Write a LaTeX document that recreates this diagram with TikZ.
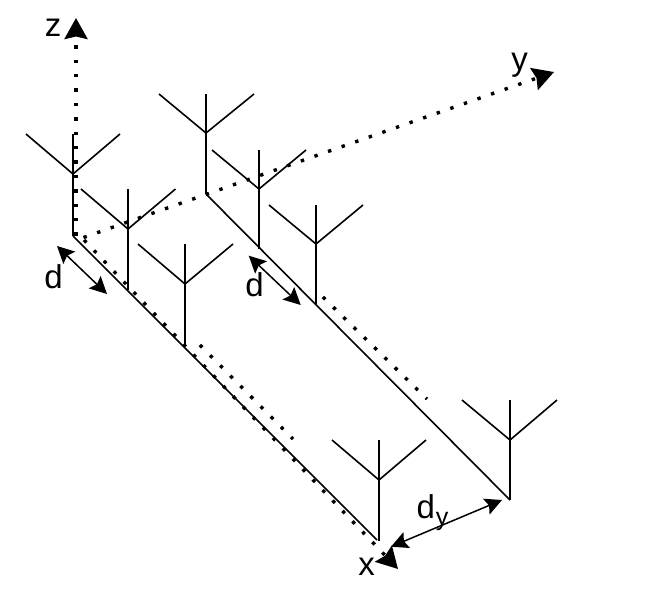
\documentclass[tikz,border=0pt]{standalone}
\usepackage{fontspec}
\setmainfont{Liberation Sans}
\usetikzlibrary{arrows.meta}
\tikzset{
  antline/.style={line width=1.6pt},
  dotline/.style={line width=3.4pt,line cap=butt,dash pattern=on 3.4pt off 11pt},
  axistip/.style={-{Stealth[length=21pt,width=23pt,inset=2.5pt]}},
  gaptip/.style={{Stealth[length=17pt,width=17pt,inset=3pt]}-{Stealth[length=17pt,width=17pt,inset=3pt]},line width=1.5pt},
  labeltext/.style={font=\fontsize{33}{33}\selectfont,inner sep=0pt,anchor=base}
}
\begin{document}
\begin{tikzpicture}[line join=round,x=1pt,y=-1pt]
\useasboundingbox (0,0) rectangle (648,590);
% feed points of the two rows
\coordinate (a1) at (73,236);
\coordinate (a2) at (128,290);
\coordinate (a3) at (185,347);
\coordinate (a4) at (206,194);
\coordinate (a5) at (259,249);
\coordinate (a6) at (316,304);
\coordinate (a7) at (379,541);
\coordinate (a8) at (510,500);
\draw [antline] (a1)-- (377,540);
\draw [antline] (a4)-- (a8);
% front row
\draw [antline] (a1)-- (73,134);
\draw [antline] (26,134)-- (73,174)-- (120,134);
\draw [antline] (a2)-- (128,189);
\draw [antline] (81,189)-- (128,229)-- (175.5,189);
\draw [antline] (a3)-- (185,244);
\draw [antline] (138,244)-- (185,284)-- (233,244);
\draw [antline] (a7)-- (379,440);
\draw [antline] (332,440)-- (379,480)-- (426,440);
% back row
\draw [antline] (a4)-- (206,94);
\draw [antline] (159,94)-- (206,133)-- (254,94);
\draw [antline] (a5)-- (259,150);
\draw [antline] (212,150)-- (259,189)-- (306,150);
\draw [antline] (a6)-- (316,205);
\draw [antline] (269,205)-- (316,244)-- (363,205);
\draw [antline] (a8)-- (510,400);
\draw [antline] (462,400)-- (510,440)-- (557,400);
% axes
\coordinate (zorig) at (76,235.7);
\coordinate (ztip) at (76,18);
\coordinate (yorig) at (83.5,237.5);
\coordinate (ytip) at (554,72);
\coordinate (xorig) at (84,240);
\coordinate (xtip) at (398,569);
\draw [dotline,axistip] (zorig)-- (ztip);
\draw [dotline,axistip] (yorig)-- (ytip);
\draw [dotline,axistip] (xorig)-- (xtip);
\coordinate (ra) at (199.9,345);
\coordinate (rb) at (293,439);
\coordinate (rc) at (322.9,297);
\coordinate (rd) at (427,399);
\draw [dotline] (ra)-- (rb);
\draw [dotline] (rc)-- (rd);
% spacings
\coordinate (da) at (57,246);
\coordinate (db) at (107,294);
\coordinate (dc) at (248.7,255.7);
\coordinate (dd) at (300.7,305);
\coordinate (de) at (391,546.7);
\coordinate (df) at (502,500);
\draw [gaptip] (da)-- (db);
\draw [gaptip] (dc)-- (dd);
\draw [gaptip] (de)-- (df);
\node [labeltext] (labelz) at (53,36) {z};
\node [labeltext] (labely) at (519.5,70) {y};
\node [labeltext] (labelx) at (366.5,575) {x};
\node [labeltext] (labeld) at (53.5,288) {d};
\node [labeltext] (labeldb) at (254.5,296) {d};
\node [labeltext] (labeldy) at (432.5,518) {d\kern1pt\raisebox{-7pt}{\fontsize{25}{25}\selectfont y}};
\end{tikzpicture}
\end{document}
